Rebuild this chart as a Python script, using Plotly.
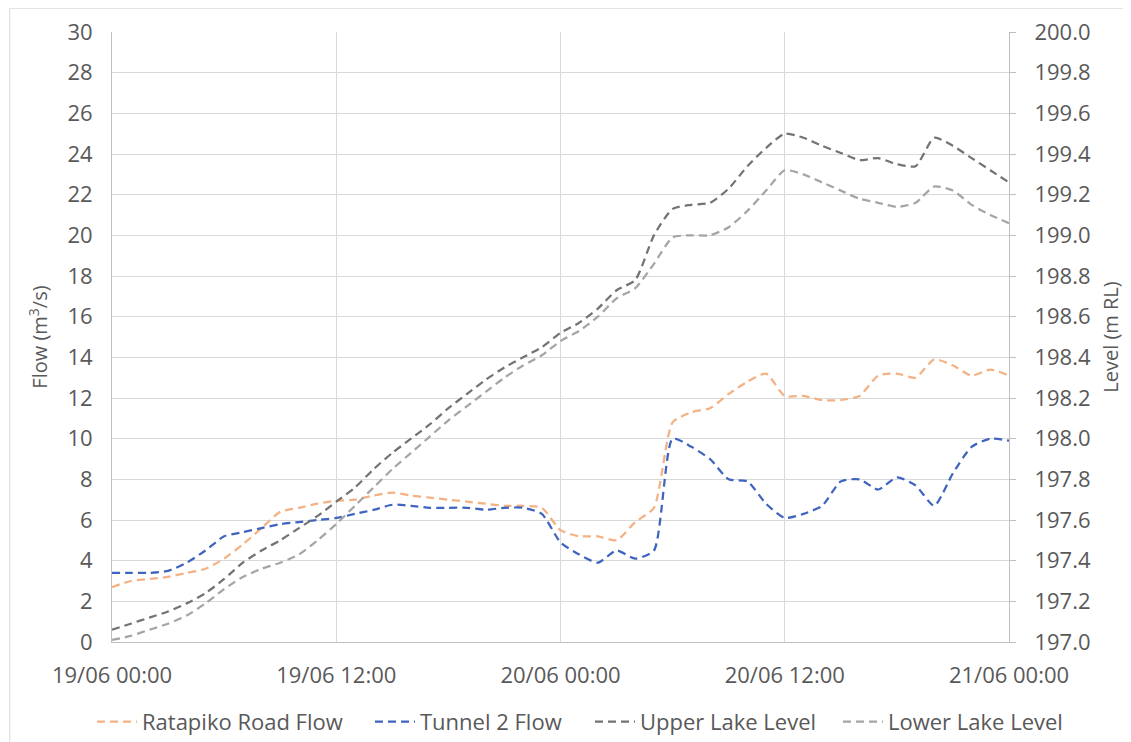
import plotly.graph_objects as go

hours = list(range(0, 49))
tick_vals = [0, 12, 24, 36, 48]
tick_text = ["19/06 00:00", "19/06 12:00", "20/06 00:00", "20/06 12:00", "21/06 00:00"]

ratapiko_flow = [2.7, 3.0, 3.1, 3.2, 3.4, 3.6, 4.1, 4.8, 5.6, 6.4, 6.6, 6.8, 6.95, 7.0, 7.2, 7.35,
                 7.2, 7.1, 7.0, 6.9, 6.8, 6.7, 6.7, 6.6, 5.5, 5.2, 5.2, 5.0, 5.9, 6.6, 10.8, 11.3,
                 11.5, 12.2, 12.8, 13.2, 12.1, 12.1, 11.9, 11.9, 12.1, 13.1, 13.2, 13.0, 13.9, 13.6,
                 13.1, 13.4, 13.1]
tunnel2_flow = [3.4, 3.4, 3.4, 3.5, 3.9, 4.5, 5.2, 5.4, 5.6, 5.8, 5.9, 6.0, 6.1, 6.3, 6.5, 6.75,
                6.7, 6.6, 6.6, 6.6, 6.5, 6.6, 6.6, 6.3, 4.9, 4.3, 3.9, 4.5, 4.1, 4.5, 10.0, 9.6,
                9.0, 8.0, 7.9, 6.8, 6.1, 6.3, 6.7, 7.9, 8.0, 7.5, 8.1, 7.7, 6.7, 8.3, 9.6, 10.0, 9.9]
upper_lake_level = [197.06, 197.09, 197.12, 197.15, 197.19, 197.24, 197.31, 197.39, 197.45, 197.50,
                    197.56, 197.62, 197.69, 197.76, 197.85, 197.93, 198.00, 198.07, 198.15, 198.22,
                    198.29, 198.35, 198.40, 198.45, 198.52, 198.57, 198.64, 198.73, 198.78, 199.00,
                    199.13, 199.15, 199.16, 199.23, 199.34, 199.43, 199.50, 199.48, 199.44, 199.405,
                    199.37, 199.38, 199.35, 199.34, 199.48, 199.44, 199.38, 199.32, 199.26]
lower_lake_level = [197.01, 197.03, 197.06, 197.09, 197.13, 197.19, 197.26, 197.32, 197.36, 197.39,
                    197.43, 197.50, 197.58, 197.67, 197.76, 197.85, 197.93, 198.01, 198.09, 198.16,
                    198.23, 198.30, 198.36, 198.41, 198.48, 198.53, 198.60, 198.69, 198.74, 198.86,
                    198.99, 199.00, 199.00, 199.04, 199.12, 199.22, 199.32, 199.30, 199.26, 199.22,
                    199.18, 199.16, 199.14, 199.16, 199.24, 199.22, 199.15, 199.10, 199.06]

FONT = "Open Sans"
TXT = "#595959"
DASH = "8px,5px"

fig = go.Figure()
fig.add_trace(go.Scatter(x=hours, y=ratapiko_flow, name="Ratapiko Road Flow", mode="lines",
                         legend="legend",
                         line=dict(color="#F4B183", width=2.25, dash=DASH, shape="spline", smoothing=0.6)))
fig.add_trace(go.Scatter(x=hours, y=tunnel2_flow, name="Tunnel 2 Flow", mode="lines",
                         legend="legend2",
                         line=dict(color="#3F64C0", width=2.25, dash=DASH, shape="spline", smoothing=0.6)))
fig.add_trace(go.Scatter(x=hours, y=upper_lake_level, name="Upper Lake Level", mode="lines", yaxis="y2",
                         legend="legend3",
                         line=dict(color="#737373", width=2.25, dash=DASH, shape="spline", smoothing=0.6)))
fig.add_trace(go.Scatter(x=hours, y=lower_lake_level, name="Lower Lake Level", mode="lines", yaxis="y2",
                         legend="legend4",
                         line=dict(color="#A5A5A5", width=2.25, dash=DASH, shape="spline", smoothing=0.6)))


def leg(px):
    return dict(orientation="h", x=(px - 112) / 897, xanchor="left", y=-0.131, yanchor="middle",
                font=dict(family=FONT, size=22, color=TXT), bgcolor="rgba(0,0,0,0)",
                itemwidth=40, borderwidth=0)


# page body has an 8px margin, so the figure is offset by 8px; compensate
fig.update_layout(
    width=1123, height=734,
    margin=dict(l=104, r=122, t=24, b=100, autoexpand=False),
    paper_bgcolor="white", plot_bgcolor="white",
    font=dict(family=FONT, size=22, color=TXT),
    showlegend=True,
    legend=leg(92), legend2=leg(370), legend3=leg(590), legend4=leg(838),
    xaxis=dict(range=[0, 48], tickvals=tick_vals, ticktext=tick_text, showgrid=True,
               gridcolor="#D9D9D9", gridwidth=1, showline=True, linecolor="#BFBFBF", linewidth=1,
               zeroline=False, ticks="", ticklabelstandoff=14, automargin=False,
               tickfont=dict(family=FONT, size=22, color=TXT)),
    yaxis=dict(range=[0, 30], dtick=2, showgrid=True, gridcolor="#D9D9D9", gridwidth=1,
               showline=True, linecolor="#BFBFBF", linewidth=1, zeroline=False, ticks="",
               ticklabelstandoff=14, automargin=False,
               tickfont=dict(family=FONT, size=22, color=TXT),
               title=dict(text="Flow (m<sup>3</sup>/s)", standoff=14,
                          font=dict(family=FONT, size=20, color=TXT))),
    yaxis2=dict(range=[197, 200], dtick=0.2, tickformat=".1f", overlaying="y", side="right",
                showgrid=False, showline=True, linecolor="#BFBFBF", linewidth=1, zeroline=False,
                ticks="outside", ticklen=6, tickcolor="#BFBFBF", ticklabelstandoff=14,
                automargin=False, tickfont=dict(family=FONT, size=22, color=TXT),
                title=dict(text="Level (m RL)", standoff=14,
                           font=dict(family=FONT, size=20, color=TXT))),
)

# chart-area border
fig.add_shape(type="rect", xref="paper", yref="paper", x0=-0.114, x1=1.3, y0=-0.4, y1=1.039,
              line=dict(color="#D9D9D9", width=1), fillcolor="rgba(0,0,0,0)", layer="below")

fig.write_html("out.html")
